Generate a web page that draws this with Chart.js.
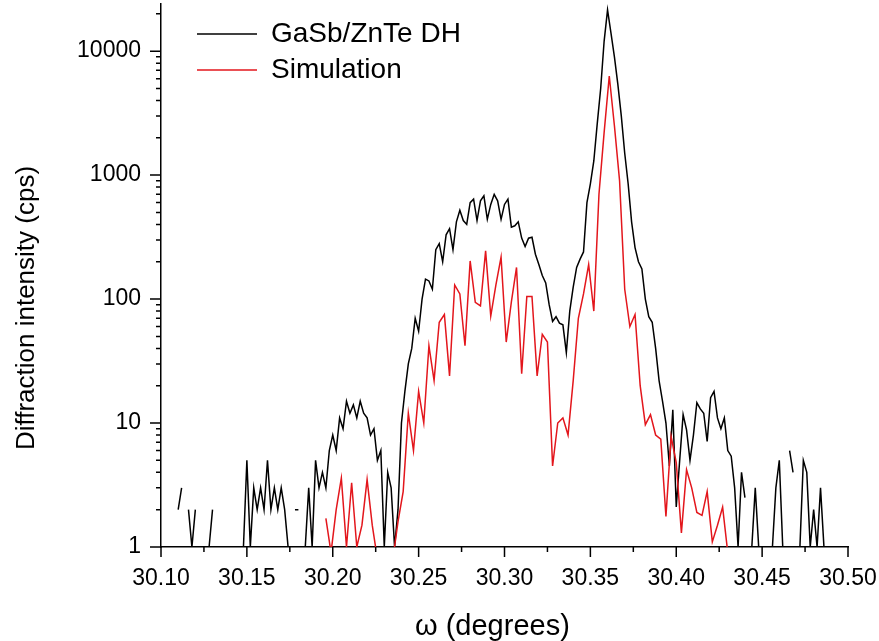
<!DOCTYPE html>
<html lang="en">
<head>
<meta charset="UTF-8">
<title>GaSb/ZnTe DH rocking curve</title>
<script src="https://cdn.jsdelivr.net/npm/chart.js"></script>
<style>
  body { margin: 0; background: #fff; }
</style>
</head>
<body>
<canvas id="xrdChart" width="879" height="641"></canvas>
<script>
// measured scan: 30.100 deg, step 0.002 deg (null = zero counts, not shown on log axis)
const measStart = 30.100;
const measStep = 0.002;
const measured = [
  null, null, null, null, null, 2, 3, null, 2, 1,
  2, null, null, null, 1, 2, null, null, null, null,
  null, null, null, null, 1, 5, 1, 3, 2, 3,
  2, 5, 2, 3, 2, 3, 2, 1, null, 2,
  2, null, 1, 3, 1, 5, 3, 4, 3, 6,
  8, 6, 11, 9, 15, 12, 14, 11, 15, 12,
  11, 8, 9, 5, 6, 1, 4, 3, 1, 2,
  10, 18, 30, 40, 70, 55, 100, 145, 140, 120,
  250, 280, 200, 330, 370, 250, 420, 520, 430, 400,
  600, 640, 430, 620, 680, 440, 580, 700, 620, 440,
  580, 640, 380, 390, 420, 310, 265, 310, 315, 230,
  190, 155, 135, 90, 66, 72, 64, 62, 37, 80,
  125, 180, 210, 240, 600, 850, 1300, 2600, 5000, 12000,
  21500, 14000, 9000, 5400, 3000, 1500, 850, 420, 260, 200,
  175, 100, 72, 65, 40, 22, 15, 10, 4.5, 12.8,
  2.1, 5, 11.7, 8.8, 5, 8, 14.6, 13, 12, 7.1,
  16, 18, 11, 9, 11, 6, 5.4, 3, 1, 4,
  2.5, null, 1, 3, 1, null, null, null, 1, 3,
  5, 1, null, 6, 4, null, 1, 5, 4, 1,
  2, 1, 3, 1, null, null, null, null, null, null,
  null
];

// simulation: 30.196 deg, step 0.003 deg
const simStart = 30.196;
const simStep = 0.003;
const simulated = [
  1.7, 0.9, 2, 3.6, 1, 3.3, 1, 1.5, 3.5, 1.5,
  0.8, null, null, 0.8, 1.6, 2.8, 12, 6, 18, 10,
  42, 22, 65, 75, 24, 130, 110, 42, 203, 94,
  88, 245, 73, 130, 218, 45, 95, 180, 25, 105,
  105, 24, 52, 45, 4.5, 10, 11, 8, 22, 70,
  110, 190, 80, 700, 2200, 6300, 2500, 900, 120, 60,
  75, 20, 9.7, 11.7, 8, 7.4, 1.76, 7.8, 4.8, 1.3,
  4.2, 3, 1.9, 1.8, 2.8, 1.1, 1.5, 2.1, 0.9
];

const xTicks = [30.10, 30.15, 30.20, 30.25, 30.30, 30.35, 30.40, 30.45, 30.50];
const yTicks = [1, 10, 100, 1000, 10000];
const seriesNames = ['GaSb/ZnTe DH', 'Simulation'];

const fontFamily = "'Liberation Sans', Arial, sans-serif";

function toPoints(start, step, values) {
  return values.map((v, i) => ({ x: +(start + i * step).toFixed(4), y: v }));
}

// tick marks outside the frame, long for labelled values, short in between
const axisTicks = {
  id: 'axisTicks',
  afterLayout(chart) {
    // legend sits inside the plot, a little in from the top-left corner
    const lg = chart.legend;
    lg.left = chart.chartArea.left + 28;
    lg.top = chart.chartArea.top + 8;
  },
  afterDraw(chart) {
    const { ctx, chartArea, scales: { x, y } } = chart;
    ctx.save();
    ctx.strokeStyle = '#000';
    ctx.lineWidth = 1.5;
    ctx.beginPath();
    xTicks.forEach((v, i) => {
      const px = x.getPixelForValue(v);
      ctx.moveTo(px, chartArea.bottom);
      ctx.lineTo(px, chartArea.bottom + 10);
      if (i < xTicks.length - 1) {
        const mx = x.getPixelForValue((v + xTicks[i + 1]) / 2);
        ctx.moveTo(mx, chartArea.bottom);
        ctx.lineTo(mx, chartArea.bottom + 5);
      }
    });
    yTicks.forEach(v => {
      const py = y.getPixelForValue(v);
      ctx.moveTo(chartArea.left, py);
      ctx.lineTo(chartArea.left - 11, py);
      for (let m = 2; m <= 9; m++) {
        if (v * m > y.max) break;
        const my = y.getPixelForValue(v * m);
        ctx.moveTo(chartArea.left, my);
        ctx.lineTo(chartArea.left - 5, my);
      }
    });
    ctx.stroke();
    ctx.restore();
  }
};

const ctx = document.getElementById('xrdChart').getContext('2d');
new Chart(ctx, {
  type: 'line',
  data: {
    datasets: [
      {
        label: seriesNames[0],
        data: toPoints(measStart, measStep, measured),
        borderColor: '#000000',
        backgroundColor: '#000000',
        borderWidth: 1.5,
        pointRadius: 0,
        tension: 0,
        spanGaps: false,
        order: 1
      },
      {
        label: seriesNames[1],
        data: toPoints(simStart, simStep, simulated),
        borderColor: '#e3161c',
        backgroundColor: '#e3161c',
        borderWidth: 1.5,
        pointRadius: 0,
        tension: 0,
        spanGaps: false,
        order: 0
      }
    ]
  },
  options: {
    responsive: false,
    animation: false,
    layout: { padding: { top: 4, right: 31, left: 0, bottom: 0 } },
    plugins: {
      tooltip: { enabled: false },
      legend: {
        position: 'chartArea',
        align: 'start',
        labels: {
          usePointStyle: true,
          pointStyle: 'line',
          pointStyleWidth: 60,
          color: '#000',
          padding: 8,
          font: { family: fontFamily, size: 28 },
          sort: (a, b) => a.datasetIndex - b.datasetIndex
        }
      }
    },
    scales: {
      x: {
        type: 'linear',
        min: 30.10,
        max: 30.50,
        afterBuildTicks: scale => { scale.ticks = xTicks.map(v => ({ value: v })); },
        afterFit: scale => {
          scale.height = 94;
          scale.paddingLeft = 0;
          scale.paddingRight = 0;
        },
        grid: { display: false, drawTicks: false },
        border: { display: true, color: '#000', width: 1.5 },
        ticks: {
          color: '#000',
          padding: 18,
          maxRotation: 0,
          autoSkip: false,
          font: { family: fontFamily, size: 23 },
          callback: v => v.toFixed(2)
        },
        title: {
          display: true,
          text: '\u03c9 (degrees)   ',
          color: '#000',
          padding: 0,
          font: { family: fontFamily, size: 29, lineHeight: 1 }
        }
      },
      y: {
        type: 'logarithmic',
        min: 1,
        max: 24000,
        afterBuildTicks: scale => { scale.ticks = yTicks.map(v => ({ value: v })); },
        afterFit: scale => {
          scale.width = 161;
          scale.paddingTop = 0;
          scale.paddingBottom = 0;
        },
        grid: { display: false, drawTicks: false },
        border: { display: true, color: '#000', width: 1.5 },
        ticks: {
          color: '#000',
          padding: 20,
          autoSkip: false,
          font: { family: fontFamily, size: 23 },
          callback: v => String(v)
        },
        title: {
          display: true,
          text: 'Diffraction intensity (cps)         ',
          color: '#000',
          padding: { top: 14, bottom: 0 },
          font: { family: fontFamily, size: 26, lineHeight: 1 }
        }
      }
    }
  },
  plugins: [axisTicks]
});
</script>
</body>
</html>
